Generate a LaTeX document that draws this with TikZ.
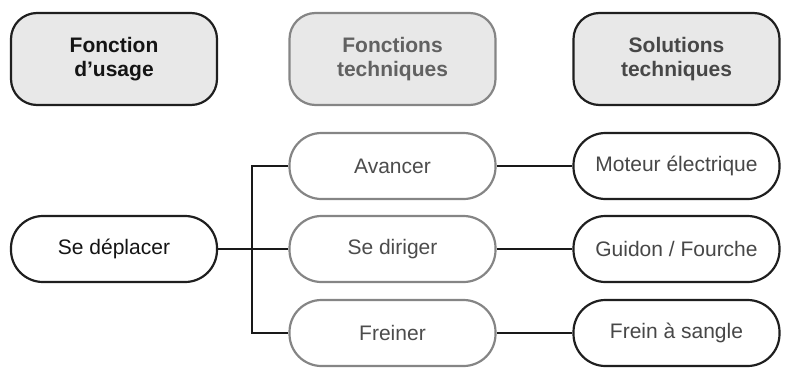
\documentclass[tikz,border=0pt]{standalone}
\usepackage{fontspec}
\setmainfont{Liberation Sans}
\begin{document}
\begin{tikzpicture}[x=1pt,y=-1pt,
    box/.style={rounded corners=32pt, minimum width=206pt, minimum height=66pt,
      line width=2.2pt, align=center, fill=white, inner sep=0pt,
      font=\fontsize{21}{24}\selectfont},
    head/.style={box, rounded corners=26pt, minimum height=92pt, fill=black!9,
      font=\fontsize{21}{24}\selectfont\bfseries},
    dark/.style={draw=black!88, text=black!72},
    light/.style={draw=black!48, text=black!70},
    link/.style={line width=2.8pt, draw=black!90}]
  \useasboundingbox (0,0) rectangle (790,367);
  % headers
  \node[head, dark, text=black!92] (usage) at (114,59) {Fonction\\d’usage};
  \node[head, light, text=black!62] (ftech) at (392.5,59) {Fonctions\\techniques};
  \node[head, dark] (stech) at (676.5,59) {Solutions\\techniques};
  % rows
  \node[box, dark, text=black!92] (depl) at (114,249) {Se déplacer};
  \node[box, light] (avancer) at (392.5,166) {Avancer};
  \node[box, light] (diriger) at (392.5,249) {Se diriger};
  \node[box, light] (freiner) at (392.5,333) {Freiner};
  \node[box, dark] (moteur) at (676.5,166) {Moteur électrique};
  \node[box, dark] (guidon) at (676.5,249) {Guidon / Fourche};
  \node[box, dark] (frein) at (676.5,333) {Frein à sangle};
  \coordinate (j) at (252,249);
  % links
  \draw[link] (depl.east) -- (diriger.west);
  \draw[link] (avancer.west) -| (j) |- (freiner.west);
  \draw[link] (avancer.east) -- (moteur.west);
  \draw[link] (diriger.east) -- (guidon.west);
  \draw[link] (freiner.east) -- (frein.west);
\end{tikzpicture}
\end{document}
